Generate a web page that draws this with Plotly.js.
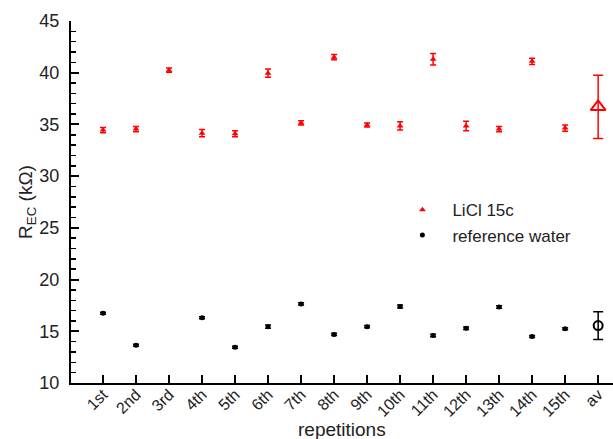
<!DOCTYPE html>
<html><head><meta charset="utf-8">
<script src="https://cdn.plot.ly/plotly-3.0.1.min.js"></script>
<style>html,body{margin:0;padding:0;background:#fff}#chart{width:613px;height:439px}</style>
</head><body><div id="chart"></div>
<script>
const repetitions = ["1st","2nd","3rd","4th","5th","6th","7th","8th","9th","10th","11th","12th","13th","14th","15th"];
const categories = repetitions.concat(["av"]);
const liclValues = [34.45,34.55,40.25,34.15,34.1,39.95,35.15,41.5,34.95,34.85,41.3,34.85,34.55,41.1,34.65];
const liclErrors = [0.25,0.25,0.2,0.35,0.3,0.4,0.2,0.25,0.2,0.4,0.55,0.45,0.25,0.3,0.3];
const waterValues = [16.75,13.65,null,16.3,13.45,15.45,17.65,14.7,15.45,17.4,14.6,15.3,17.35,14.5,15.25];
const waterErrors = [0.1,0.1,null,0.1,0.1,0.15,0.1,0.1,0.1,0.15,0.12,0.12,0.12,0.1,0.1];
const liclAvg = [36.7], liclAvgErr = [3.05];
const waterAvg = [15.55], waterAvgErr = [1.35];
const avLabel = ["av"];

const data = [
  {type:"scatter", mode:"markers", name:"LiCl 15c", x:repetitions, y:liclValues,
   marker:{symbol:"triangle-up", size:6, color:"#ff0000"},
   error_y:{type:"data", array:liclErrors, visible:true, color:"#ff0000", thickness:1.5, width:3}},
  {type:"scatter", mode:"markers", name:"reference water", x:repetitions, y:waterValues,
   marker:{symbol:"circle", size:5, color:"#000000"},
   error_y:{type:"data", array:waterErrors, visible:true, color:"#000000", thickness:1.5, width:3}},
  {type:"scatter", mode:"markers", showlegend:false, x:avLabel, y:liclAvg,
   marker:{symbol:"triangle-up-open", size:13, color:"#ff0000", line:{width:2, color:"#ff0000"}},
   error_y:{type:"data", array:liclAvgErr, visible:true, color:"#ff0000", thickness:1.5, width:5}},
  {type:"scatter", mode:"markers", showlegend:false, x:avLabel, y:waterAvg,
   marker:{symbol:"circle-open", size:9, color:"#000000", line:{width:2, color:"#000000"}},
   error_y:{type:"data", array:waterAvgErr, visible:true, color:"#000000", thickness:1.5, width:5}}
];

const layout = {
  width:613, height:439,
  margin:{l:71, r:0, t:21, b:56},
  paper_bgcolor:"#fff", plot_bgcolor:"#fff",
  font:{family:"Liberation Sans, Arial, sans-serif", color:"#222"},
  showlegend:true,
  legend:{x:0.593, y:0.527, xanchor:"left", yanchor:"top", bgcolor:"rgba(0,0,0,0)",
          font:{size:17, color:"#222"}, itemsizing:"trace", itemwidth:50, tracegroupgap:0},
  xaxis:{type:"category", categoryorder:"array", categoryarray:categories,
         range:[-0.97, 15.45], showline:true, linecolor:"#000", linewidth:2,
         ticks:"inside", ticklen:8, tickwidth:2, tickcolor:"#000", ticklabelstandoff:-6,
         tickangle:-45, tickfont:{size:16, color:"#222"}, showgrid:false, zeroline:false},
  yaxis:{range:[10,45], dtick:5, showline:true, linecolor:"#000", linewidth:2,
         ticks:"inside", ticklen:8, tickwidth:2, tickcolor:"#000", ticklabelstandoff:6,
         minor:{dtick:1, ticks:"inside", ticklen:5, tickwidth:1.5, tickcolor:"#000"},
         tickfont:{size:18, color:"#222"}, showgrid:false, zeroline:false,
         title:{text:"R<sub>EC</sub> (kΩ)", font:{size:19, color:"#222"}, standoff:0}},
  annotations:[{text:"repetitions", xref:"paper", yref:"paper", x:0.5, y:-0.128,
                xanchor:"center", yanchor:"middle", showarrow:false,
                font:{size:19, color:"#222"}}]
};
Plotly.newPlot("chart", data, layout, {displayModeBar:false, staticPlot:true});
</script></body></html>
